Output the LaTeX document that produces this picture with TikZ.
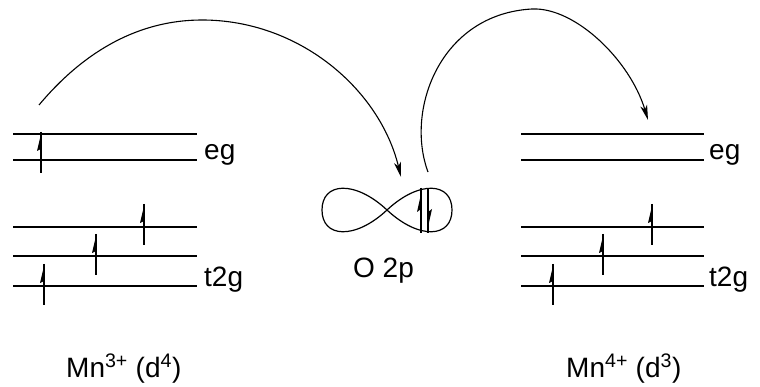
\documentclass[tikz,border=0pt]{standalone}
\usepackage{fontspec}
\setmainfont{Liberation Sans}
\usetikzlibrary{arrows.meta}
\begin{document}
\begin{tikzpicture}[x=1pt,y=-1pt,
  lvl/.style={line width=1.6pt},
  lbl/.style={anchor=base west, inner sep=0pt, font=\fontsize{28}{31}\selectfont},
  hop/.style={line width=1.1pt, -{Stealth[length=15pt,width=7pt,inset=4pt]}},
  spinup/.pic={\draw[line width=1.4pt] (0,0) -- (0,41); \fill (0,2) -- (-4,19) -- (0,17) -- cycle;},
  lobe/.style={line width=1.2pt}
]
\useasboundingbox (0,0) rectangle (760,387);

% ---- left ion levels
\foreach \n/\y in {a/134,b/160,c/227,d/256,e/286}{
  \coordinate (L\n1) at (13,\y); \coordinate (L\n2) at (197,\y);
  \draw[lvl] (L\n1) -- (L\n2);
}
% ---- right ion levels
\foreach \n/\y in {a/134,b/160,c/227,d/256,e/286}{
  \coordinate (R\n1) at (521,\y); \coordinate (R\n2) at (704,\y);
  \draw[lvl] (R\n1) -- (R\n2);
}

% ---- spins
\pic at (41,132) {spinup};
\pic at (144,204) {spinup};
\pic at (96,234) {spinup};
\pic at (44,264) {spinup};
\pic at (652,204) {spinup};
\pic at (603,234) {spinup};
\pic at (553,264) {spinup};

% ---- labels
\node[lbl] (egL) at (204,160) {eg};
\node[lbl] (t2gL) at (204,287) {t2g};
\node[lbl] (egR) at (709,160) {eg};
\node[lbl] (t2gR) at (709,287) {t2g};
\node[lbl] (O2p) at (353,277) {O 2p};
\node[lbl] (MnL) at (66,377) {Mn\textsuperscript{3+} (d\textsuperscript{4})};
\node[lbl] (MnR) at (566,377) {Mn\textsuperscript{4+} (d\textsuperscript{3})};

% ---- O 2p orbital
\coordinate (X) at (387,210);
\draw[lobe] (X) .. controls (355,180) and (322,182) .. (322,210)
               .. controls (322,238) and (355,240) .. (X)
               .. controls (419,180) and (452,182) .. (452,210)
               .. controls (452,238) and (419,240) .. (X);
\draw[line width=1.4pt] (421,188) -- (421,233);
\fill (421,194) -- (417,212) -- (421,209) -- cycle;
\draw[line width=1.4pt] (428,188) -- (428,233);
\fill (428,227) -- (432,209) -- (428,212) -- cycle;

% ---- hopping arcs
\coordinate (h1s) at (39,105);
\coordinate (h1e) at (401,177);
\coordinate (h2s) at (428,172);
\coordinate (h2e) at (648,120);
\draw[hop] (h1s) .. controls (85,50) and (140,20) .. (202,20)
                 .. controls (300,20) and (380,90) .. (h1e);
\draw[hop] (h2s) .. controls (405,110) and (440,14) .. (532,9)
                 .. controls (575,7) and (630,60) .. (h2e);
\end{tikzpicture}
\end{document}
